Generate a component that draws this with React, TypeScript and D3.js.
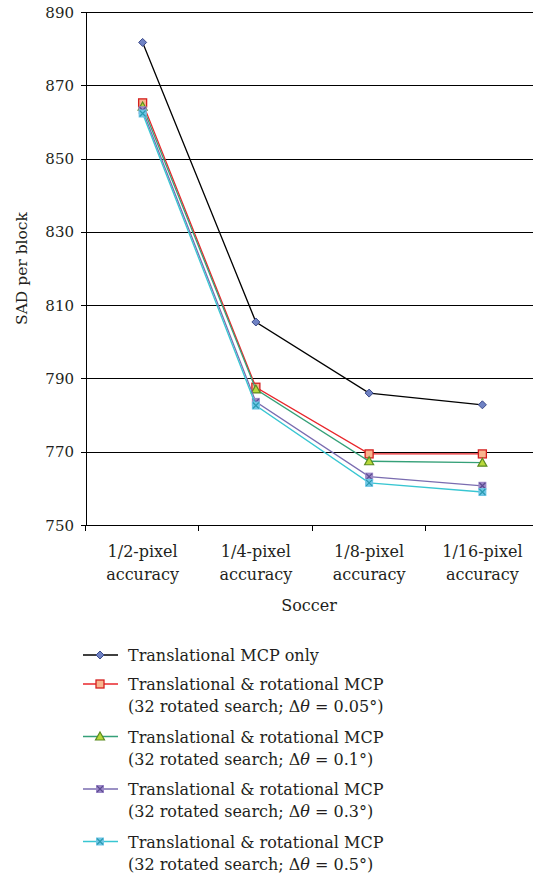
import React from 'react';
import * as d3 from 'd3';

const categories = ['1/2-pixel|accuracy', '1/4-pixel|accuracy', '1/8-pixel|accuracy', '1/16-pixel|accuracy'];
const yTicks = [750, 770, 790, 810, 830, 850, 870, 890];

const translationalOnly = [881.7, 805.4, 786.0, 782.8];
const rot005 = [865.2, 787.6, 769.4, 769.4];
const rot01 = [864.2, 787.0, 767.4, 767.0];
const rot03 = [863.2, 783.6, 763.2, 760.7];
const rot05 = [862.3, 782.6, 761.5, 759.0];

const seriesNames = [
  ['Translational MCP only'],
  ['Translational & rotational MCP', '0.05'],
  ['Translational & rotational MCP', '0.1'],
  ['Translational & rotational MCP', '0.3'],
  ['Translational & rotational MCP', '0.5'],
];

const series = [
  { values: translationalOnly, line: '#000000', fill: '#6f82c4', edge: '#3c4a8a', marker: 'diamond' },
  { values: rot005, line: '#e8262b', fill: '#f8b48e', edge: '#d42020', marker: 'square' },
  { values: rot01, line: '#35a078', fill: '#b8d83a', edge: '#5a8a20', marker: 'triangle' },
  { values: rot03, line: '#7a6cb0', fill: '#9c88c8', edge: '#5a4a90', marker: 'xsquare' },
  { values: rot05, line: '#38c6d2', fill: '#6ec6e6', edge: '#2a9ab0', marker: 'xsquare' },
];

const FONT = 'DejaVu Serif';

const Marker = ({ kind, x, y, fill, edge }: any) => {
  if (kind === 'diamond') {
    return <path d={`M${x},${y - 4}L${x + 4},${y}L${x},${y + 4}L${x - 4},${y}Z`} fill={fill} stroke={edge} strokeWidth={1} />;
  }
  if (kind === 'square') {
    return <rect x={x - 4} y={y - 4} width={8} height={8} fill={fill} stroke={edge} strokeWidth={1.3} />;
  }
  if (kind === 'triangle') {
    return <path d={`M${x},${y - 4.5}L${x + 4.5},${y + 3.5}L${x - 4.5},${y + 3.5}Z`} fill={fill} stroke={edge} strokeWidth={1.2} />;
  }
  return (
    <g>
      <rect x={x - 4} y={y - 4} width={8} height={8} fill={fill} />
      <path d={`M${x - 3},${y - 3}L${x + 3},${y + 3}M${x + 3},${y - 3}L${x - 3},${y + 3}`} stroke={edge} strokeWidth={1.2} />
    </g>
  );
};

export default function App() {
  const width = 533;
  const height = 879;
  const left = 86;
  const top = 12;
  const bottom = 525;

  const x = d3.scaleBand<string>().domain(categories).range([left, 539]);
  const y = d3.scaleLinear().domain([750, 890]).range([bottom, top]);
  const cx = (i: number) => (x(categories[i]) as number) + x.bandwidth() / 2;

  const line = d3.line<number>().x((_, i) => cx(i)).y((d) => y(d));

  const legendTop = 655;
  const legendRows = [0, 1, 2, 3, 4].map((i) => (i === 0 ? legendTop : legendTop + 29 + (i - 1) * 52.5));

  return (
    <svg width={width} height={height} style={{ position: 'absolute', left: 0, top: 0, background: '#fff' }} fontFamily={FONT}>
      {/* grid */}
      {yTicks.slice(1).map((t) => (
        <line key={t} x1={left} x2={width} y1={Math.round(y(t)) + 0.5} y2={Math.round(y(t)) + 0.5} stroke="#000" strokeWidth={1} />
      ))}
      {/* axes */}
      <line x1={left + 0.5} x2={left + 0.5} y1={top} y2={bottom + 0.5} stroke="#000" />
      <line x1={left} x2={width} y1={Math.round(bottom) + 0.5} y2={Math.round(bottom) + 0.5} stroke="#000" />
      {yTicks.map((t) => (
        <g key={t}>
          <line x1={left - 5} x2={left} y1={Math.round(y(t)) + 0.5} y2={Math.round(y(t)) + 0.5} stroke="#000" />
          <text x={left - 12} y={y(t) + 5.5} textAnchor="end" fontSize={15} fill="#231f20">{t}</text>
        </g>
      ))}
      {categories.map((c) => (
        <line key={c} x1={Math.round(x(c) as number) - 0.5} x2={Math.round(x(c) as number) - 0.5} y1={bottom} y2={bottom + 6} stroke="#000" />
      ))}
      {categories.map((c, i) => {
        const [a, b] = c.split('|');
        return (
          <text key={c} x={cx(i)} textAnchor="middle" fontSize={16} fill="#231f20">
            <tspan x={cx(i)} y={557}>{a}</tspan>
            <tspan x={cx(i)} y={580}>{b}</tspan>
          </text>
        );
      })}
      <text x={309} y={611} textAnchor="middle" fontSize={16} fill="#231f20">Soccer</text>
      <text transform={`translate(27,${(top + bottom) / 2}) rotate(-90)`} textAnchor="middle" fontSize={15.5} fill="#231f20">SAD per block</text>

      {/* series */}
      {series.map((s, si) => (
        <g key={si}>
          <path d={line(s.values) as string} fill="none" stroke={s.line} strokeWidth={1.3} />
          {s.values.map((v, i) => (
            <Marker key={i} kind={s.marker} x={cx(i)} y={y(v)} fill={s.fill} edge={s.edge} />
          ))}
        </g>
      ))}

      {/* legend */}
      {series.map((s, i) => {
        const ly = legendRows[i];
        const names = seriesNames[i];
        return (
          <g key={i}>
            <line x1={83} x2={118} y1={ly} y2={ly} stroke={s.line} strokeWidth={1.3} />
            <Marker kind={s.marker} x={100} y={ly} fill={s.fill} edge={s.edge} />
            <text x={128} y={ly + 6} fontSize={16} fill="#231f20">{names[0]}</text>
            {names[1] && (
              <text x={128} y={ly + 28} fontSize={16} fill="#231f20">
                (32 rotated search; Δ<tspan fontStyle="italic">θ</tspan> = {names[1]}°)
              </text>
            )}
          </g>
        );
      })}
    </svg>
  );
}
